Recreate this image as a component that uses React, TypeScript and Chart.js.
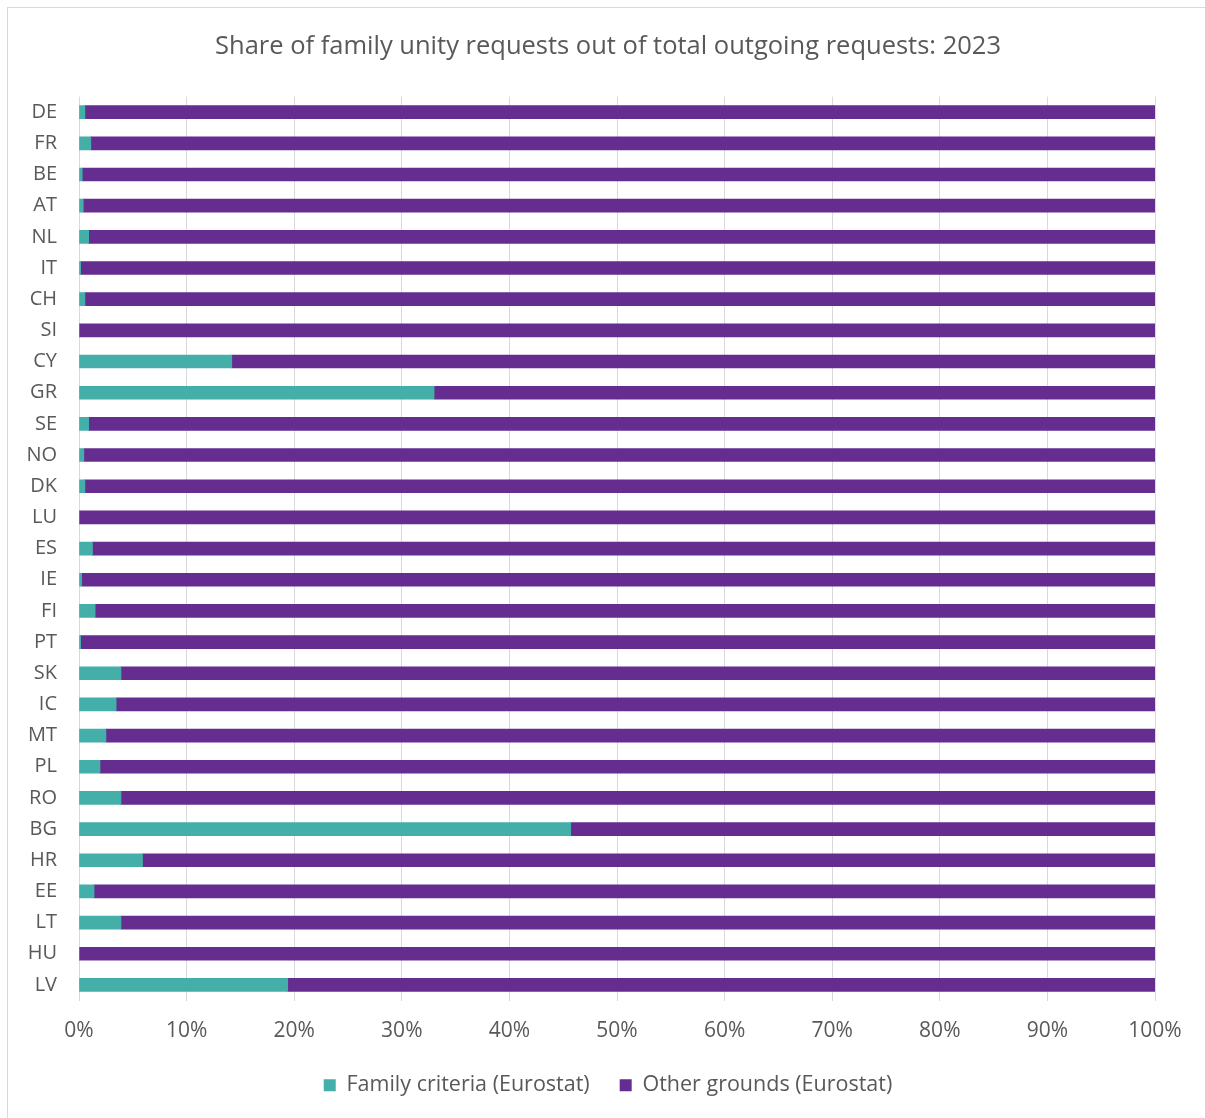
import React, { useEffect, useRef } from "react";
import { Chart, registerables } from "chart.js";

Chart.register(...registerables);

const categories = ["DE","FR","BE","AT","NL","IT","CH","SI","CY","GR","SE","NO","DK","LU","ES","IE","FI","PT","SK","IC","MT","PL","RO","BG","HR","EE","LT","HU","LV"];
const familyCriteria = [0.55,1.1,0.3,0.4,0.9,0.15,0.55,0,14.2,33.0,0.9,0.45,0.55,0,1.25,0.25,1.5,0.15,3.9,3.45,2.5,1.95,3.9,45.7,5.9,1.4,3.9,0,19.4];
const otherGrounds = familyCriteria.map((v) => 100 - v);
const xTicks = [0,10,20,30,40,50,60,70,80,90,100];
const seriesNames = ["Family criteria (Eurostat)", "Other grounds (Eurostat)"];
const title = "Share of family unity requests out of total outgoing requests: 2023";

const FONT = "'Open Sans', 'Noto Sans', sans-serif";
const TEXT = "#595959";

export default function App() {
  const ref = useRef<HTMLCanvasElement | null>(null);
  useEffect(() => {
    if (!ref.current) return;
    const chart = new Chart(ref.current, {
      type: "bar",
      data: {
        labels: categories,
        datasets: [
          { label: seriesNames[0], data: familyCriteria, backgroundColor: "#43AFA8", barThickness: 13, yAxisID: "y" },
          { label: seriesNames[1], data: otherGrounds, backgroundColor: "#662D91", barThickness: 13, yAxisID: "y" },
        ],
      },
      options: {
        indexAxis: "y",
        animation: false,
        responsive: false,
        layout: { padding: { left: 0, right: 0, top: 0, bottom: 12 } },
        plugins: {
          title: {
            display: true,
            text: title,
            color: TEXT,
            font: { family: FONT, size: 25.5, weight: "normal" },
            padding: { top: 31, bottom: 35 },
          },
          legend: {
            position: "bottom",
            labels: {
              color: TEXT,
              font: { family: FONT, size: 21.5 },
              boxWidth: 12,
              boxHeight: 12,
              padding: 30,
            },
          },
          tooltip: { enabled: false },
        },
        scales: {
          x: {
            stacked: true,
            min: 0,
            max: 100,
            afterBuildTicks: (s: any) => { s.ticks = xTicks.map((v) => ({ value: v })); },
            ticks: {
              callback: (v: any) => v + "%",
              color: TEXT,
              font: { family: FONT, size: 21 },
              padding: 18,
              maxRotation: 0,
            },
            grid: { color: "#d9d9d9", lineWidth: 1, drawTicks: false },
            border: { display: false },
            afterFit: (s: any) => { s.height = 44; },
          },
          y: {
            stacked: true,
            position: "left",
            ticks: {
              color: TEXT,
              font: { family: FONT, size: 20 },
              padding: 22,
              autoSkip: false,
            },
            grid: { display: false, drawTicks: false },
            border: { display: false },
            afterFit: (s: any) => { s.width = 79; },
          },
          yRight: {
            type: "category",
            position: "right",
            display: true,
            ticks: { display: false },
            grid: { display: false, drawTicks: false },
            border: { display: false },
            afterFit: (s: any) => { s.width = 61; },
          },
        },
      },
    });
    return () => chart.destroy();
  }, []);
  return (
    <div style={{ position: "absolute", left: 0, top: 0, width: 1205, height: 1118, overflow: "hidden", background: "#fff" }}>
      <div style={{ position: "absolute", left: 7, top: 7, width: 1300, height: 1300, border: "1px solid #d9d9d9" }} />
      <canvas ref={ref} width={1216} height={1118} style={{ position: "absolute", left: 0, top: 0 }} />
    </div>
  );
}
